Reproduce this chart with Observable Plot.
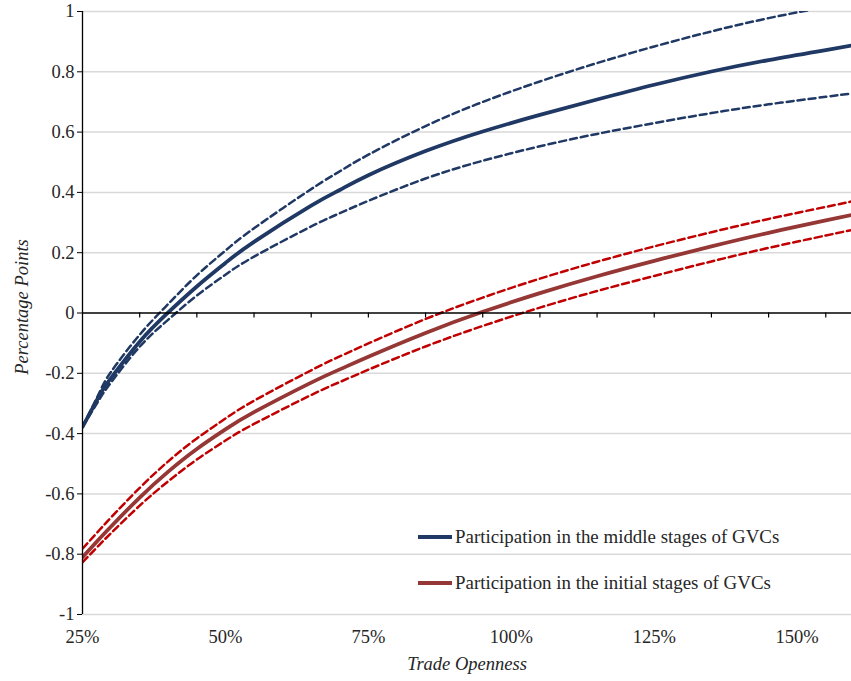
<!DOCTYPE html>
<html>
<head>
<meta charset="utf-8">
<script src="https://cdn.jsdelivr.net/npm/d3@7"></script>
<script src="https://cdn.jsdelivr.net/npm/@observablehq/plot@0.6"></script>
<style>
  html, body { margin: 0; padding: 0; background: #fff; }
  #wrap { position: relative; width: 851px; height: 681px; font-family: "Liberation Serif", "Times New Roman", serif; color: #262626; }
  #wrap svg text { font-family: "Liberation Serif", "Times New Roman", serif !important; font-size: 18.5px !important; fill: #262626; }
  .leg { position: absolute; left: 418px; display: flex; align-items: center; font-size: 18.9px; white-space: nowrap; }
  .leg span.sw { display: inline-block; width: 34px; height: 3.6px; margin-right: 3px; }
</style>
</head>
<body>
<div id="wrap"></div>
<script>
// Trade openness (%) at which values were read
const openness = [25, 28, 30, 35, 40, 45, 50, 55, 65, 70, 75, 85, 95, 105, 115, 125, 135, 145, 155, 159.5];

// Participation in the middle stages of GVCs
const middleEst   = [-0.378, -0.272, -0.215, -0.095, 0.002, 0.088, 0.166, 0.236, 0.356, 0.408, 0.457, 0.537, 0.602, 0.657, 0.708, 0.757, 0.801, 0.839, 0.872, 0.887];
const middleUpper = [-0.378, -0.262, -0.195, -0.072, 0.030, 0.125, 0.207, 0.281, 0.411, 0.470, 0.525, 0.620, 0.700, 0.768, 0.829, 0.884, 0.934, 0.978, 1.015, 1.030];
const middleLower = [-0.378, -0.285, -0.230, -0.112, -0.022, 0.058, 0.127, 0.187, 0.287, 0.331, 0.372, 0.446, 0.505, 0.553, 0.594, 0.630, 0.663, 0.692, 0.717, 0.728];

// Participation in the initial stages of GVCs
const initialEst   = [-0.810, -0.748, -0.708, -0.612, -0.526, -0.451, -0.386, -0.329, -0.231, -0.187, -0.145, -0.066, 0.004, 0.066, 0.122, 0.173, 0.221, 0.266, 0.307, 0.325];
const initialUpper = [-0.782, -0.719, -0.678, -0.580, -0.492, -0.416, -0.350, -0.291, -0.190, -0.144, -0.101, -0.020, 0.051, 0.114, 0.170, 0.221, 0.268, 0.312, 0.352, 0.370];
const initialLower = [-0.827, -0.768, -0.730, -0.639, -0.558, -0.486, -0.423, -0.368, -0.272, -0.229, -0.188, -0.111, -0.043, 0.018, 0.073, 0.123, 0.171, 0.216, 0.257, 0.275];

const xTickValues = [25, 50, 75, 100, 125, 150];
const xTickLabels = ["25%", "50%", "75%", "100%", "125%", "150%"];
const xMinorTicks = [35, 45, 55, 65, 75, 85, 95, 105, 115, 125, 135, 145, 155];
const yTickValues = [-1, -0.8, -0.6, -0.4, -0.2, 0, 0.2, 0.4, 0.6, 0.8, 1];
const yTickLabels = ["-1", "-0.8", "-0.6", "-0.4", "-0.2", "0", "0.2", "0.4", "0.6", "0.8", "1"];

const seriesNames = ["Participation in the middle stages of GVCs", "Participation in the initial stages of GVCs"];

function rows(vals, key) {
  return vals.map((v, i) => ({x: openness[i], y: v, key}));
}
const solidRows = [...rows(middleEst, "mid"), ...rows(initialEst, "ini")];
const dashRows = [...rows(middleUpper, "midU"), ...rows(middleLower, "midL"), ...rows(initialUpper, "iniU"), ...rows(initialLower, "iniL")];

const blue = "#1f3864";
const redSolid = "#953735";
const redDash = "#c00000";
const colorOf = {mid: blue, ini: redSolid, midU: blue, midL: blue, iniU: redDash, iniL: redDash};

const chart = Plot.plot({
  width: 851,
  height: 681,
  marginLeft: 82,
  marginRight: 0,
  marginTop: 11,
  marginBottom: 67,
  x: {domain: [25, 159.5], axis: null},
  y: {domain: [-1, 1], axis: null},
  style: {fontFamily: "Liberation Serif, serif", fontSize: "18px", color: "#262626", background: "#fff"},
  marks: [
    Plot.gridY(yTickValues.filter(d => d !== 0), {stroke: "#d9d9d9", strokeOpacity: 1, strokeWidth: 1.5}),
    Plot.line(dashRows, {x: "x", y: "y", z: "key", stroke: d => colorOf[d.key], strokeWidth: 2.5, strokeDasharray: "7,4", curve: "natural", clip: true}),
    Plot.line(solidRows, {x: "x", y: "y", z: "key", stroke: d => colorOf[d.key], strokeWidth: 3.8, curve: "natural", clip: true}),
    Plot.ruleY([0], {stroke: "#000", strokeWidth: 1.3}),
    Plot.ruleX(xMinorTicks, {y1: 0, y2: 0, insetBottom: -5, stroke: "#000", strokeWidth: 1.2}),
    Plot.ruleX([25], {stroke: "#000", strokeWidth: 1.3}),
    Plot.axisY({ticks: yTickValues, tickSize: 5, tickPadding: 3, tickFormat: (d) => yTickLabels[yTickValues.indexOf(d)], stroke: "#000", label: null, fontSize: 18}),
    Plot.axisX({ticks: xTickValues, tickSize: 0, tickPadding: 15, tickFormat: (d) => xTickLabels[xTickValues.indexOf(d)], label: null, fontSize: 18}),
    Plot.text(["Trade Openness"], {frameAnchor: "bottom", textAnchor: "middle", dy: 55, fontStyle: "italic", fontSize: 18}),
    Plot.text(["Percentage Points"], {frameAnchor: "left", textAnchor: "middle", dx: -60, dy: -6, rotate: -90, fontStyle: "italic", fontSize: 18})
  ]
});

const wrap = document.getElementById("wrap");
wrap.appendChild(chart);

const legendColors = [blue, redSolid];
const legendY = [537, 583];
seriesNames.forEach((name, i) => {
  const div = document.createElement("div");
  div.className = "leg";
  div.style.top = (legendY[i] - 12) + "px";
  div.style.height = "24px";
  div.innerHTML = `<span class="sw" style="background:${legendColors[i]}"></span><span>${name}</span>`;
  wrap.appendChild(div);
});
</script>
</body>
</html>
